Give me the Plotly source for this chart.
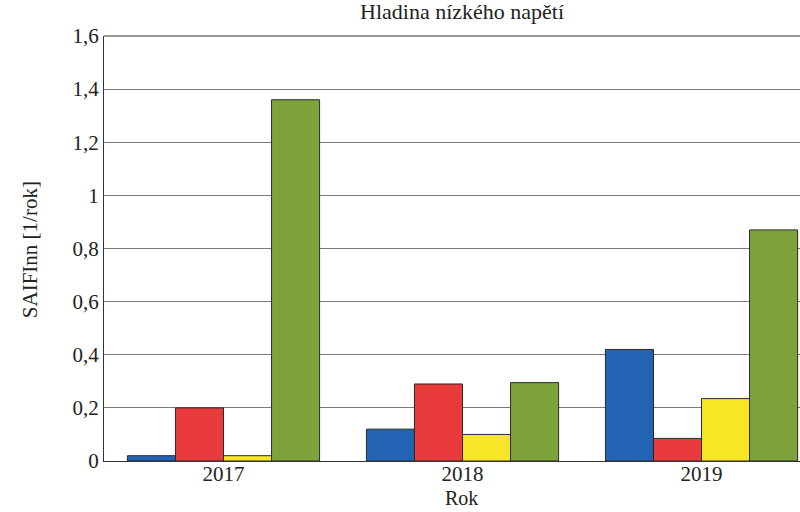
import plotly.graph_objects as go

years = ["2017", "2018", "2019"]
series_names = ["Série 1", "Série 2", "Série 3", "Série 4"]
blue_vals = [0.02, 0.12, 0.42]
red_vals = [0.20, 0.29, 0.085]
yellow_vals = [0.02, 0.10, 0.235]
green_vals = [1.36, 0.295, 0.87]
colors = ["#2363b3", "#e93a3c", "#f7e626", "#7ea33b"]
y_ticks = [0, 0.2, 0.4, 0.6, 0.8, 1.0, 1.2, 1.4, 1.6]

font = "Liberation Serif, Times New Roman, serif"

fig = go.Figure()
for name, vals, col in zip(series_names, [blue_vals, red_vals, yellow_vals, green_vals], colors):
    fig.add_trace(go.Bar(
        x=years, y=vals, name=name,
        marker=dict(color=col, line=dict(color="#2a2a2a", width=1)),
    ))

fig.update_layout(
    width=800, height=512,
    margin=dict(l=104, r=0, t=36, b=51),
    paper_bgcolor="white", plot_bgcolor="white",
    barmode="group", bargap=0.196, bargroupgap=0,
    showlegend=False,
    separators=", ",
    font=dict(family=font, size=21, color="#222"),
    xaxis=dict(
        type="category", range=[-0.5, 2.412],
        showline=True, linecolor="#333", linewidth=1,
        showgrid=False, ticks="", tickfont=dict(size=21),
        ticklabelstandoff=-6,
    ),
    yaxis=dict(
        range=[0, 1.6], tickvals=y_ticks,
        showline=True, linecolor="#333", linewidth=1, mirror=False,
        showgrid=True, gridcolor="#7a7a7a", gridwidth=1,
        zeroline=True, zerolinecolor="#333", zerolinewidth=1,
        ticks="", tickfont=dict(size=21),
    ),
    annotations=[
        dict(text="Hladina nízkého napětí", xref="paper", yref="paper",
             x=0.514, y=1.0565, yanchor="middle", xanchor="center",
             showarrow=False, font=dict(size=22)),
        dict(text="Rok", xref="paper", yref="paper",
             x=0.514, y=-0.0870, yanchor="middle", xanchor="center",
             showarrow=False, font=dict(size=20), borderpad=0),
        dict(text="SAIFInn [1/rok]", xref="paper", yref="paper",
             x=0, xshift=-74, y=0.496, xanchor="center", yanchor="middle",
             textangle=-90, showarrow=False, font=dict(size=21)),
    ],
    shapes=[
        dict(type="line", xref="paper", yref="paper", x0=0, x1=1, y0=1, y1=1,
             line=dict(color="#333", width=1)),
    ],
)

fig.write_html("out.html", config={"displayModeBar": False},
               post_script="document.body.style.margin='0px';")
